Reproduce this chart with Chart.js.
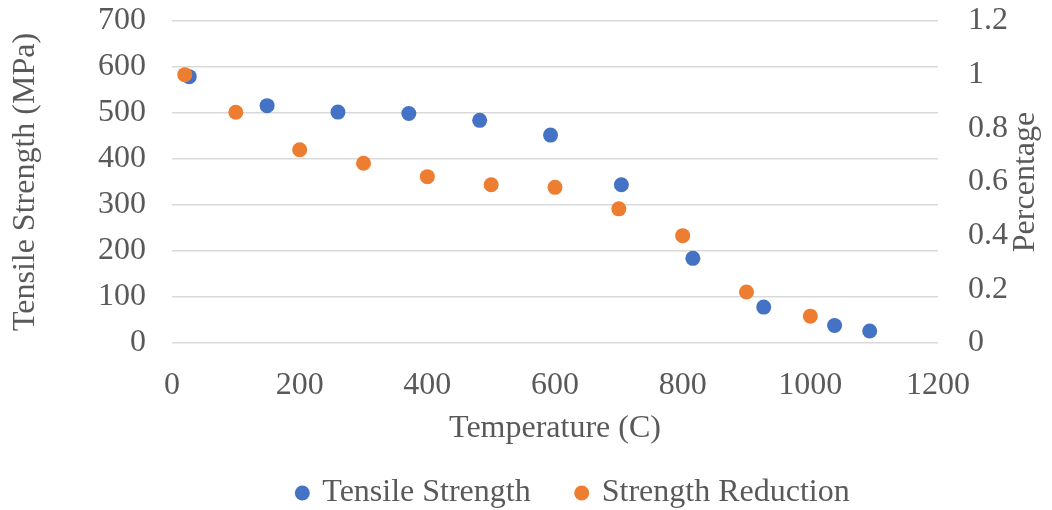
<!DOCTYPE html>
<html>
<head>
<meta charset="utf-8">
<script src="https://cdn.jsdelivr.net/npm/chart.js@4"></script>
<style>
    html, body { margin: 0; padding: 0; background: #fff; }
    #wrap { width: 1052px; height: 510px; }
</style>
</head>
<body>
<div id="wrap"><canvas id="chart" width="1052" height="510"></canvas></div>
<script>
// Tensile strength (MPa) vs temperature (C)
const strengthTemps = [27, 149, 260, 371, 482, 593, 704, 816, 927, 1038, 1093];
const strengthValues = [579, 516, 502, 499, 484, 452, 344, 184, 78, 38, 26];

// Strength reduction (fraction) vs temperature (C)
const reductionTemps = [20, 100, 200, 300, 400, 500, 600, 700, 800, 900, 1000];
const reductionValues = [1.0, 0.86, 0.72, 0.67, 0.62, 0.59, 0.58, 0.50, 0.40, 0.19, 0.10];

const FONT = '"Liberation Serif", "Times New Roman", serif';
const SIZE = 32;
const TEXT = '#595959';

function toPoints(xs, ys) {
    return xs.map((x, i) => ({ x: x, y: ys[i] }));
}

// right axis title reads bottom-to-top like Excel
const rightTitle = {
    id: 'rightTitle',
    afterLayout(chart) {
        // legend sits a bit right of centre in the original
        chart.legend.left += 48;
        chart.legend.right += 48;
    },
    afterDraw(chart) {
        const ctx = chart.ctx;
        const area = chart.chartArea;
        ctx.save();
        ctx.translate(1026, (area.top + area.bottom) / 2);
        ctx.rotate(-Math.PI / 2);
        ctx.font = SIZE + 'px ' + FONT;
        ctx.fillStyle = TEXT;
        ctx.textAlign = 'center';
        ctx.textBaseline = 'middle';
        ctx.fillText('Percentage', 0, 0);
        ctx.restore();
    }
};

function noVertPad(scale) {
    scale.paddingTop = 0;
    scale.paddingBottom = 0;
}

new Chart(document.getElementById('chart'), {
    type: 'scatter',
    data: {
        datasets: [{
            label: 'Tensile Strength',
            data: toPoints(strengthTemps, strengthValues),
            backgroundColor: '#4472C4',
            borderWidth: 0,
            pointRadius: 7.5,
            yAxisID: 'y',
            order: 2
        }, {
            label: 'Strength Reduction',
            data: toPoints(reductionTemps, reductionValues),
            backgroundColor: '#ED7D31',
            borderWidth: 0,
            pointRadius: 7.5,
            yAxisID: 'y1',
            order: 1
        }]
    },
    options: {
        responsive: false,
        animation: false,
        events: [],
        layout: { padding: { top: 21, bottom: -9 } },
        plugins: {
            tooltip: { enabled: false },
            legend: {
                position: 'bottom',
                labels: {
                    usePointStyle: true,
                    pointStyle: 'circle',
                    boxWidth: 8,
                    boxHeight: 10.6,
                    padding: 47,
                    color: TEXT,
                    font: { family: FONT, size: SIZE },
                    sort: (a, b) => a.datasetIndex - b.datasetIndex
                }
            }
        },
        scales: {
            x: {
                type: 'linear',
                min: 0,
                max: 1200,
                ticks: {
                    stepSize: 200, color: TEXT, padding: 15,
                    font: { family: FONT, size: SIZE },
                    callback: v => String(v)
                },
                grid: { display: false },
                border: { display: false },
                title: {
                    display: true,
                    text: 'Temperature (C)',
                    color: TEXT,
                    font: { family: FONT, size: SIZE },
                    padding: { top: 0, bottom: -18 }
                },
                afterFit(scale) { scale.height = 87; }
            },
            y: {
                position: 'left',
                min: 0,
                max: 700,
                ticks: {
                    stepSize: 100, color: TEXT, padding: 26,
                    font: { family: FONT, size: SIZE },
                    callback: v => String(v)
                },
                grid: { color: '#d9d9d9', lineWidth: 1.5, drawTicks: false },
                border: { display: false },
                title: {
                    display: true,
                    text: 'Tensile Strength (MPa)',
                    color: TEXT,
                    font: { family: FONT, size: SIZE },
                    padding: { top: 6, bottom: 0 }
                },
                afterFit(scale) { scale.width = 172; noVertPad(scale); }
            },
            y1: {
                position: 'right',
                min: 0,
                max: 1.2,
                ticks: {
                    stepSize: 0.2, color: TEXT, padding: 30,
                    font: { family: FONT, size: SIZE },
                    callback: v => String(Math.round(v * 10) / 10)
                },
                grid: { display: false, drawTicks: false },
                border: { display: false },
                afterFit(scale) { scale.width = 114; noVertPad(scale); }
            }
        }
    },
    plugins: [rightTitle]
});
</script>
</body>
</html>
